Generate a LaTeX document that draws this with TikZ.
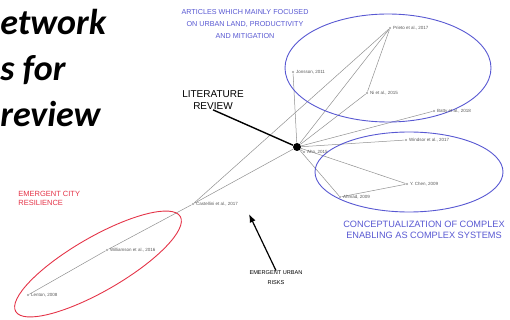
\documentclass[tikz,border=0pt]{standalone}
\usepackage{fontspec}
\setmainfont{Liberation Sans}
\newfontfamily\titlefont{Carlito}
\usetikzlibrary{arrows.meta,backgrounds}

\definecolor{clusterblue}{RGB}{88,88,210}
\definecolor{clusterred}{RGB}{228,52,72}

\begin{document}
\begin{tikzpicture}[x=1pt, y=-1pt, >=Latex, thick,
    paper/.style={circle, fill=gray!75, inner sep=0pt, minimum size=2.4pt},
    ref/.style={font=\fontsize{4.5}{5}\selectfont, text=gray!70!black, inner sep=1pt, anchor=west},
    link/.style={draw=gray!55!black!60, line width=0.5pt},
    note/.style={align=center, inner sep=0pt}]
    \useasboundingbox (0,0) rectangle (510,320);

    % Title (cut at the left edge)
    \node[anchor=base west, inner sep=0pt, font=\titlefont\fontsize{36}{36}\selectfont\bfseries\itshape] (title1) at (0,35) {etwork};
    \node[anchor=base west, inner sep=0pt, font=\titlefont\fontsize{36}{36}\selectfont\bfseries\itshape] (title2) at (0,81) {s for};
    \node[anchor=base west, inner sep=0pt, font=\titlefont\fontsize{36}{36}\selectfont\bfseries\itshape] (title3) at (0,127) {review};

    % Cluster ellipses
    \draw[clusterblue, line width=0.9pt] (388,68) ellipse [x radius=103, y radius=54];
    \draw[clusterblue, line width=0.9pt] (409,172) ellipse [x radius=94, y radius=40];
    \draw[clusterred, line width=0.9pt, rotate around={30:(98,264)}] (98,264) ellipse [x radius=95, y radius=27];

    % Hub
    \node[circle, fill=black, inner sep=0pt, minimum size=8pt] (hub) at (297,147) {};

    % Papers
    \node[paper] (top1) at (390,28) {};
    \node[ref] (top1l) at (top1.east) {Prieto et al., 2017};
    \node[paper] (top2) at (293,72) {};
    \node[ref] (top2l) at (top2.east) {Jonsson, 2011};
    \node[paper] (top3) at (367,93) {};
    \node[ref] (top3l) at (top3.east) {Ni et al., 2015};
    \node[paper] (top4) at (434,111) {};
    \node[ref] (top4l) at (top4.east) {Batty et al., 2018};
    \node[paper] (near) at (304,152) {};
    \node[ref] (nearl) at (near.east) {Ahn, 2015};
    \node[paper] (bot1) at (406,140) {};
    \node[ref] (bot1l) at (bot1.east) {Windsor et al., 2017};
    \node[paper] (bot2) at (407,184) {};
    \node[ref] (bot2l) at (bot2.east) {Y. Chen, 2009};
    \node[paper] (bot3) at (340,197) {};
    \node[ref] (bot3l) at (bot3.east) {Ahmad, 2009};
    \node[paper] (red1) at (193,204) {};
    \node[ref] (red1l) at (red1.east) {Castellini et al., 2017};
    \node[paper] (red2) at (107,250) {};
    \node[ref] (red2l) at (red2.east) {Williamson et al., 2016};
    \node[paper] (red3) at (28,295) {};
    \node[ref] (red3l) at (red3.east) {Lenton, 2008};

    % Citation links
    \begin{scope}[on background layer]
    \draw[link] (red3) -- (red2) -- (red1);
    \draw[link] (red1) -- (top1);
    \draw[link] (top1) -- (top3);
    \draw[link] (bot3) -- (bot2);
    \foreach \p in {top1,top2,top3,top4,near,bot1,bot2,bot3,red1}
        \draw[link] (hub) -- (\p);
    \end{scope}

    % Cluster captions
    \node[note, text=clusterblue, font=\fontsize{7.2}{12}\selectfont] (capa) at (245,24) {ARTICLES WHICH MAINLY FOCUSED\\ON URBAN LAND, PRODUCTIVITY\\AND MITIGATION};
    \node[note, text=clusterblue, font=\fontsize{9.2}{11}\selectfont] (capb) at (424,230) {CONCEPTUALIZATION OF COMPLEX\\ENABLING AS COMPLEX SYSTEMS};
    \node[note, align=left, anchor=north west, text=clusterred, font=\fontsize{7.5}{9}\selectfont] (capc) at (18,191) {EMERGENT CITY\\RESILIENCE};

    % Literature review pointer
    \node[note, font=\fontsize{10}{12}\selectfont] (litrev) at (213,100) {LITERATURE\\REVIEW};
    \draw[line width=1.4pt] (litrev.south) -- (hub);

    % Risks pointer
    \node[note, font=\fontsize{5.6}{10}\selectfont] (risks) at (276,278) {EMERGENT URBAN\\RISKS};
    \coordinate (riskpt) at (249,214);
    \draw[->, line width=1.2pt] (risks.north) -- (riskpt);
\end{tikzpicture}
\end{document}
